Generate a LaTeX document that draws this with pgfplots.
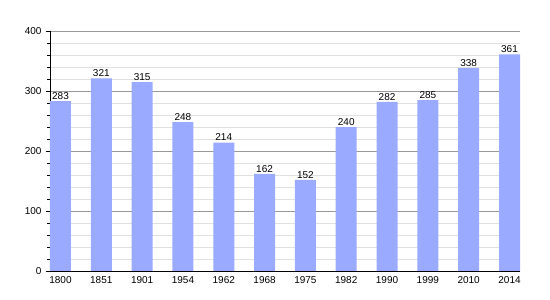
\documentclass[border=0pt]{standalone}
\usepackage{pgfplots}
\pgfplotsset{compat=1.18}
\usepackage{fontspec}
\setmainfont{Liberation Sans}
\definecolor{barc}{HTML}{99AAFF}
\begin{document}
\begin{tikzpicture}
\begin{axis}[
  at={(0pt,0pt)}, anchor=south west,
  scale only axis, width=470pt, height=240pt,
  ymin=0, ymax=400, xmin=-0.257, xmax=11.257,
  ytick={0,100,200,300,400},
  minor y tick num=4,
  xtick={0,...,11},
  xticklabels={1800,1851,1901,1954,1962,1968,1975,1982,1990,1999,2010,2014},
  axis x line*=bottom, axis y line*=left,
  x axis line style={-, black, line width=0.8pt},
  y axis line style={-, black, line width=0.8pt},
  ymajorgrids, yminorgrids,
  major grid style={color=black!40, line width=0.5pt},
  minor grid style={color=black!12, line width=0.5pt},
  major x tick style={draw=none},
  major y tick style={black, line width=0.6pt},
  minor y tick style={black, line width=0.6pt},
  tick align=outside,
  major tick length=4pt, minor tick length=3pt,
  tick label style={font=\fontsize{10}{11}\selectfont},
  /pgf/number format/assume math mode=true,
  xticklabel style={yshift=2pt},
  yticklabel style={xshift=-1pt},
  ybar, bar width=21pt,
  nodes near coords,
  nodes near coords style={font=\fontsize{10}{11}\selectfont, inner sep=1.5pt},
]
\addplot[fill=barc, draw=none] coordinates {
(0,283) (1,321) (2,315) (3,248) (4,214) (5,162) (6,152) (7,240) (8,282) (9,285) (10,338) (11,361)};
\end{axis}
\path (-50pt,-29pt) rectangle (500pt,271pt);
\end{tikzpicture}
\end{document}
